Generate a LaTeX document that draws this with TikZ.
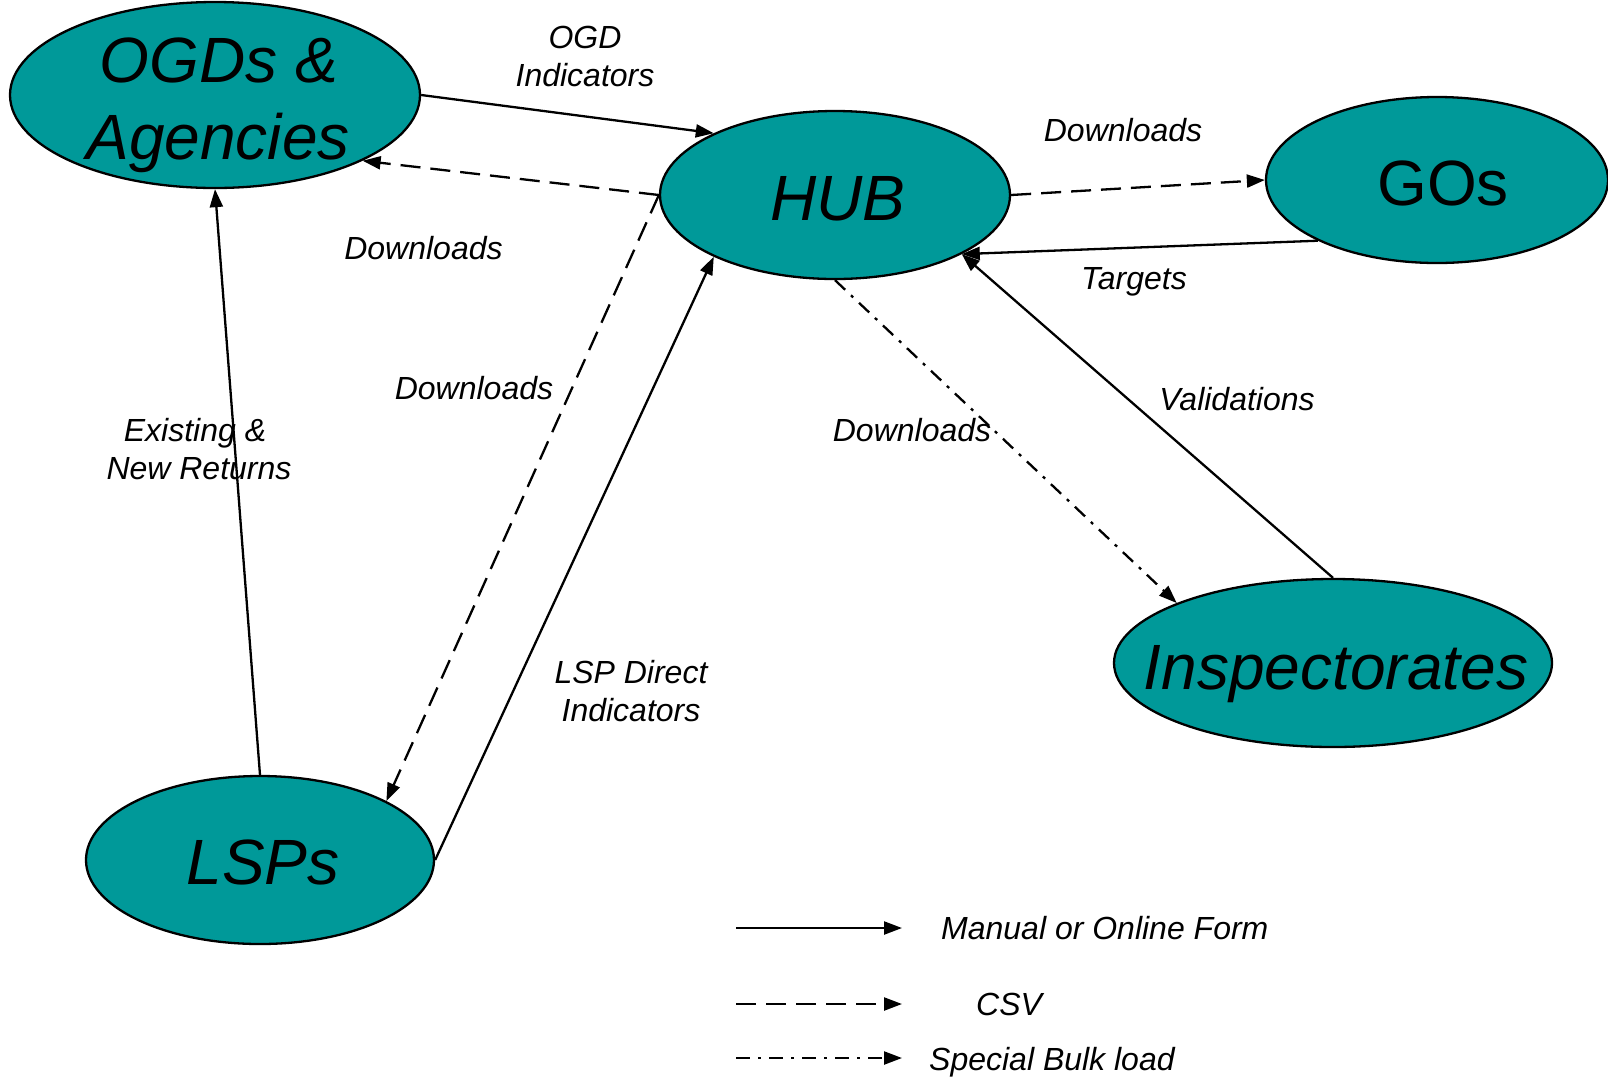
\documentclass[tikz,border=0pt]{standalone}
\usepackage{fontspec}
\setmainfont{Liberation Sans}
\usetikzlibrary{shapes.geometric,arrows.meta}
\definecolor{entfill}{RGB}{0,153,153}
\begin{document}
\begin{tikzpicture}[x=1pt,y=-1pt,
  ent/.style={ellipse, draw=black, line width=2.3pt, fill=entfill, inner sep=0pt},
  big/.style={font=\fontsize{64}{77}\selectfont\itshape, inner sep=0pt, anchor=base},
  bigup/.style={font=\fontsize{64}{77}\selectfont, inner sep=0pt, anchor=base},
  lbl/.style={font=\fontsize{32}{38}\selectfont\itshape, inner sep=0pt, anchor=base},
  lgd/.style={font=\fontsize{32}{38}\selectfont\itshape, inner sep=0pt, anchor=base west},
  conn/.style={line width=2.3pt, -{Triangle[length=18pt,width=13pt]}},
  csv/.style={conn, dash pattern=on 20pt off 10pt},
  bulk/.style={conn, dash pattern=on 14pt off 8pt on 3pt off 8pt}]
\useasboundingbox (0,0) rectangle (1608,1077);

% entities
\node[ent, minimum width=410pt, minimum height=186pt] (ogd) at (215,95) {};
\node[ent, minimum width=350pt, minimum height=168pt] (hub) at (835,195) {};
\node[ent, minimum width=342pt, minimum height=166pt] (gos) at (1437,180) {};
\node[ent, minimum width=438pt, minimum height=168pt] (insp) at (1333,663) {};
\node[ent, minimum width=348pt, minimum height=168pt] (lsp) at (260,860) {};

% entity texts
\node[big] (ogdt1) at (219,82) {OGDs \&};
\node[big] (ogdt2) at (218,159) {Agencies};
\node[big] (hubt) at (838,220) {HUB};
\node[bigup] (gost) at (1443,205) {GOs};
\node[big] (inspt) at (1336,689) {Inspectorates};
\node[big] (lspt) at (263,884) {LSPs};

% connectors
\draw[conn] (ogd.east) -- (hub.153.8);
\draw[csv] (hub.west) -- (ogd.-24.3);
\draw[csv] (hub.east) -- (gos.west);
\draw[conn] (gos.-153.6) -- (hub.-25);
\draw[conn] (insp.north) -- (hub.-25);
\draw[bulk] (hub.south) -- (insp.159.4);
\draw[csv] (hub.west) -- (lsp.25.6);
\draw[conn] (lsp.east) -- (hub.-153.8);
\draw[conn] (lsp.north) -- (ogd.south);

% connector labels
\node[lbl] (l1a) at (585,48) {OGD};
\node[lbl] (l1b) at (585,86) {Indicators};
\node[lbl] (l2) at (1123,141.5) {Downloads};
\node[lbl] (l3) at (423.5,259.5) {Downloads};
\node[lbl] (l4) at (1134,289) {Targets};
\node[lbl] (l5) at (474,399) {Downloads};
\node[lbl] (l6) at (1237,410) {Validations};
\node[lbl] (l7) at (912,441) {Downloads};
\node[lbl] (l8a) at (195,441) {Existing \&};
\node[lbl] (l8b) at (199,479) {New Returns};
\node[lbl] (l9a) at (631,683) {LSP Direct};
\node[lbl] (l9b) at (631,721) {Indicators};

% legend
\coordinate (lg1a) at (736,928); \coordinate (lg1b) at (902,928);
\coordinate (lg2a) at (736,1004); \coordinate (lg2b) at (902,1004);
\coordinate (lg3a) at (736,1058); \coordinate (lg3b) at (902,1058);
\draw[conn] (lg1a) -- (lg1b);
\draw[csv] (lg2a) -- (lg2b);
\draw[bulk] (lg3a) -- (lg3b);
\node[lgd] (lt1) at (941,939) {Manual or Online Form};
\node[lgd] (lt2) at (976,1015) {CSV};
\node[lgd] (lt3) at (929,1070) {Special Bulk load};
\end{tikzpicture}
\end{document}
